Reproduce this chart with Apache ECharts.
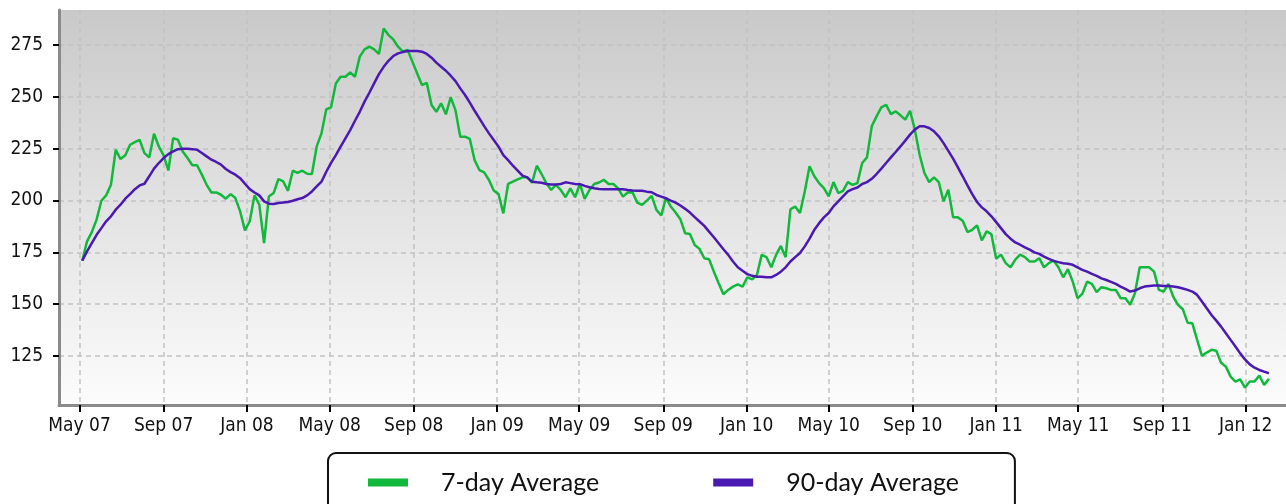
<!DOCTYPE html>
<html>
<head>
<meta charset="utf-8">
<script src="https://cdn.jsdelivr.net/npm/echarts@6/dist/echarts.min.js"></script>
<style>
html,body{margin:0;padding:0;background:#fff;}
#chart{width:1286px;height:504px;}
</style>
</head>
<body>
<div id="chart"></div>
<script>
// ---- data (weekly points) ----
const seriesNames = ['7-day Average', '90-day Average'];
const firstWeek = '2007-05-05';
const sevenDay = [
171.0,180.3,184.8,190.8,199.9,202.5,207.6,224.5,220.0,221.8,
226.9,228.2,229.3,222.9,220.8,232.2,226.1,221.8,214.5,230.1,
229.3,223.7,220.5,217.0,217.0,212.5,207.6,203.9,203.9,202.8,
200.9,203.1,201.2,194.8,185.6,190.0,202.5,198.0,179.5,202.0,
203.6,210.4,209.2,204.7,214.4,213.3,214.4,212.9,212.8,226.1,
232.4,244.0,245.0,256.5,259.7,259.7,261.8,259.7,269.4,272.9,
274.2,272.9,270.7,283.0,279.8,277.7,274.2,271.8,272.6,267.0,
261.3,255.7,256.8,246.1,242.8,246.9,241.6,249.8,243.6,230.8,
230.8,229.7,219.5,214.7,213.6,209.9,204.8,203.1,193.8,208.0,
209.1,210.2,211.2,211.2,208.6,216.8,212.8,208.3,205.1,207.5,
205.1,201.6,205.9,201.6,208.0,200.8,205.1,208.0,208.7,210.0,
208.0,208.0,205.9,201.9,203.9,204.0,199.0,197.9,200.0,202.3,
195.5,192.8,201.4,197.1,194.2,191.0,184.2,183.9,178.6,176.7,
172.2,171.7,165.7,160.1,154.8,156.9,158.5,159.6,158.5,163.0,
162.0,164.1,173.8,172.7,167.8,173.8,178.1,172.7,195.8,197.1,
194.0,204.4,216.5,211.7,208.4,206.0,202.0,208.9,203.6,204.7,
208.9,207.6,208.4,218.1,220.8,235.8,240.6,244.9,246.2,241.7,
243.0,241.1,239.0,243.3,234.2,222.1,213.3,208.9,211.2,208.9,
199.6,205.2,192.0,191.9,190.3,184.8,185.9,188.0,180.8,185.1,
183.8,171.9,173.9,169.8,167.8,171.5,173.9,172.7,170.6,170.6,
172.2,167.8,169.8,171.1,167.8,163.0,166.9,160.9,152.9,155.0,
160.9,159.8,155.8,158.2,157.7,156.9,156.9,152.9,152.9,149.7,
155.3,167.8,167.8,167.8,165.7,156.9,156.1,159.8,153.7,149.7,
147.6,141.1,140.8,132.8,125.1,126.7,128.0,127.6,121.8,119.9,
115.1,112.7,113.8,109.8,112.7,112.7,115.6,111.1,114.0
];
const ninetyDay = [
171.0,175.5,179.5,183.5,186.7,190.0,192.4,195.6,198.0,200.9,
203.1,205.5,207.3,208.1,211.7,215.4,218.1,220.5,222.4,223.7,
224.8,225.0,225.0,224.8,224.5,222.9,221.3,219.7,218.6,217.3,
215.2,213.7,212.5,210.8,208.1,205.5,203.9,202.5,199.6,198.5,
198.3,198.8,199.1,199.3,199.9,200.6,201.2,202.5,204.4,206.8,
209.1,213.9,218.2,221.9,226.0,230.0,234.0,238.5,242.8,247.7,
252.0,256.5,261.0,264.5,267.4,269.7,271.0,271.6,272.1,272.1,
272.1,271.8,270.7,268.9,266.5,264.5,262.6,260.2,257.6,254.1,
250.9,247.2,243.3,239.6,235.9,232.4,229.2,226.0,221.9,219.5,
216.8,214.4,212.0,211.2,209.1,208.8,208.6,208.0,207.8,207.8,
208.0,208.8,208.4,208.0,207.9,207.1,206.4,205.9,205.6,205.5,
205.5,205.5,205.5,205.5,205.1,204.8,204.7,204.7,204.3,204.0,
202.7,201.9,201.1,200.0,199.0,197.6,196.0,194.2,192.0,189.9,
187.8,185.0,182.3,179.4,176.5,173.8,170.6,167.8,166.1,164.5,
163.7,163.3,163.3,163.0,163.0,164.1,165.7,167.8,170.6,172.7,
174.7,177.9,181.6,185.9,189.1,191.9,194.0,197.2,199.6,202.0,
204.4,205.5,206.3,208.0,208.9,210.5,212.8,215.4,218.1,220.8,
223.4,226.1,228.9,231.8,234.2,235.8,235.8,235.0,233.4,231.0,
227.7,224.0,220.2,216.0,211.7,207.3,203.1,199.3,196.7,194.8,
192.4,189.6,186.7,183.8,181.6,179.8,178.7,177.4,176.3,175.0,
174.3,173.0,171.9,170.9,170.3,169.8,169.5,169.0,167.8,166.6,
165.7,164.6,163.7,162.5,161.7,160.8,159.8,158.5,157.4,156.1,
156.6,157.7,158.5,158.8,159.0,159.0,158.8,158.8,158.5,158.2,
157.6,156.9,156.1,154.5,151.3,148.1,144.8,142.1,139.2,136.0,
132.8,129.6,126.3,123.4,121.0,119.4,118.3,117.5,116.7
];
const tickDates = ['2007-05-01','2007-09-01','2008-01-01','2008-05-01','2008-09-01',
  '2009-01-01','2009-05-01','2009-09-01','2010-01-01','2010-05-01','2010-09-01',
  '2011-01-01','2011-05-01','2011-09-01','2012-01-01'];
const tickLabels = ['May 07','Sep 07','Jan 08','May 08','Sep 08','Jan 09','May 09',
  'Sep 09','Jan 10','May 10','Sep 10','Jan 11','May 11','Sep 11','Jan 12'];
const yTicks = [125, 150, 175, 200, 225, 250, 275];
const xStart = '2007-04-01';
const xEnd = '2012-02-29';
const yMin = 101.4;
const yMax = 291.9;

// ---- build (x in days since xStart) ----
const DAY = 86400000;
const base = Date.parse(xStart);
const dayOf = d => Math.round((Date.parse(d) - base) / DAY);
const d0 = dayOf(firstWeek);
const toPairs = arr => arr.map((v, i) => [d0 + i * 7, v]);
const tickDays = tickDates.map(dayOf);
const labelMap = {};
tickDays.forEach((t, i) => { labelMap[t] = tickLabels[i]; });

const axisFont = "'DejaVu Sans Condensed', 'DejaVu Sans', sans-serif";
const gridLine = { show: true, lineStyle: { color: '#c2c2c2', width: 1.5, type: [5, 4] } };

const chart = echarts.init(document.getElementById('chart'), null, { renderer: 'canvas' });
chart.setOption({
  animation: false,
  backgroundColor: '#ffffff',
  grid: {
    left: 59, right: 0, top: 10, bottom: 99,
    show: true,
    borderWidth: 0,
    backgroundColor: {
      type: 'linear', x: 0, y: 0, x2: 0, y2: 1,
      colorStops: [{ offset: 0, color: '#c9c9c9' }, { offset: 1, color: '#fcfcfc' }]
    }
  },
  legend: {
    data: seriesNames,
    left: 328, top: 453,
    icon: 'rect',
    itemWidth: 40, itemHeight: 8,
    itemGap: 114,
    padding: [17, 56, 30, 40],
    borderColor: '#111', borderWidth: 2, borderRadius: 8,
    backgroundColor: '#fff',
    textStyle: { fontFamily: 'Lato', fontSize: 25, color: '#111', padding: [0, 0, 0, 28] }
  },
  xAxis: {
    type: 'value',
    min: 0, max: dayOf(xEnd),
    axisLine: { show: true, onZero: false, lineStyle: { color: '#8a8a8a', width: 3 } },
    axisTick: { show: true, customValues: tickDays, length: 7, lineStyle: { color: '#000', width: 2 } },
    axisLabel: {
      customValues: tickDays,
      formatter: v => labelMap[v] || '',
      fontFamily: axisFont, fontSize: 19, color: '#111', margin: 12
    },
    splitLine: gridLine
  },
  yAxis: {
    type: 'value',
    min: yMin, max: yMax,
    axisLine: { show: true, onZero: false, lineStyle: { color: '#8a8a8a', width: 3 } },
    axisTick: { show: true, customValues: yTicks, length: 6, lineStyle: { color: '#000', width: 2 } },
    axisLabel: {
      customValues: yTicks,
      fontFamily: axisFont, fontSize: 19, color: '#111', margin: 16
    },
    splitLine: gridLine
  },
  series: [
    {
      name: seriesNames[0], type: 'line', data: toPairs(sevenDay),
      showSymbol: false, symbol: 'none',
      lineStyle: { color: '#12b83c', width: 2.5 }, itemStyle: { color: '#12b83c' }
    },
    {
      name: seriesNames[1], type: 'line', data: toPairs(ninetyDay),
      showSymbol: false, symbol: 'none',
      lineStyle: { color: '#4a19b2', width: 2.5 }, itemStyle: { color: '#4a19b2' }
    }
  ]
});
</script>
</body>
</html>
